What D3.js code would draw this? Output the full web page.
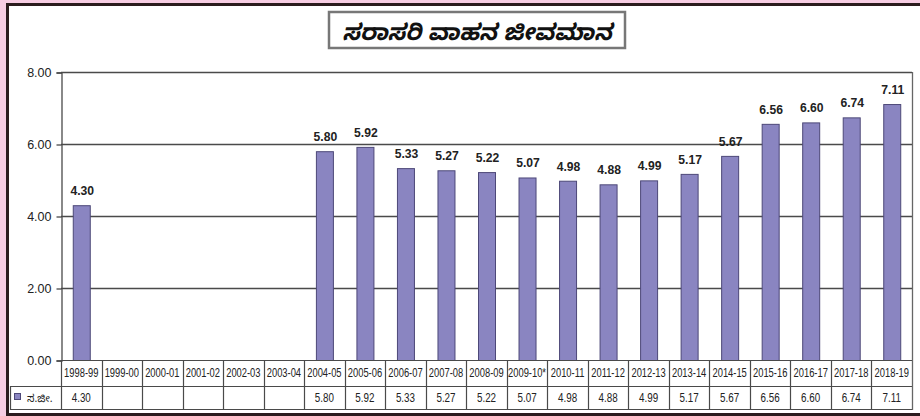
<!DOCTYPE html>
<html><head><meta charset="utf-8">
<script src="https://cdn.jsdelivr.net/npm/d3@7"></script>
<style>
html,body{margin:0;padding:0;background:#f7cde3;}
svg{display:block;}
</style></head>
<body>
<svg id="chart" width="920" height="416"></svg>
<script>
const title = "ಸರಾಸರಿ ವಾಹನ ಜೀವಮಾನ";
const seriesName = "ಸ.ಜೀ.";
const categories = ["1998-99","1999-00","2000-01","2001-02","2002-03","2003-04","2004-05","2005-06","2006-07","2007-08","2008-09","2009-10*","2010-11","2011-12","2012-13","2013-14","2014-15","2015-16","2016-17","2017-18","2018-19"];
const values = [4.30,null,null,null,null,null,5.80,5.92,5.33,5.27,5.22,5.07,4.98,4.88,4.99,5.17,5.67,6.56,6.60,6.74,7.11];
const yTicks = [0,2,4,6,8];

const svg = d3.select("#chart");
const L = 61, R = 912, T = 72, B = 360;
const row1B = 386, row2B = 409, legendL = 10;
const barColor = "#8a85c1", barStroke = "#4d4878", gridColor = "#4a4a4a";
const numFont = "'Liberation Sans',Arial,sans-serif";
const knFont = "'Noto Sans Kannada','Noto Sans','Noto Serif Kannada','Lohit Kannada',sans-serif";

// white frame with dark border
svg.append("rect").attr("x",7.5).attr("y",4.5).attr("width",940).attr("height",410)
  .attr("fill","#fff").attr("stroke","#2b1c1e").attr("stroke-width",3);

const x = d3.scaleBand().domain(categories).range([L,R]).paddingInner(0).paddingOuter(0);
const y = d3.scaleLinear().domain([0,8]).range([B,T]);

// gridlines
svg.append("g").selectAll("line").data(yTicks.filter(d=>d>0)).join("line")
  .attr("x1",L).attr("x2",R).attr("y1",d=>y(d)+0.5).attr("y2",d=>y(d)+0.5)
  .attr("stroke",gridColor).attr("stroke-width",1.3);

// y axis
const yAxis = d3.axisLeft(y).tickValues(yTicks).tickFormat(d3.format(".2f")).tickSize(5).tickPadding(5);
const ga = svg.append("g").attr("transform",`translate(${L+0.5},0.5)`).call(yAxis);
ga.select(".domain").attr("stroke",gridColor).attr("stroke-width",1.3);
ga.selectAll(".tick line").attr("stroke",gridColor).attr("stroke-width",1.3);
ga.selectAll(".tick text").attr("font-family","'Liberation Sans',Arial,sans-serif").attr("font-size",12.5).attr("fill","#222");

// right border of plot
svg.append("line").attr("x1",R+0.5).attr("x2",R+0.5).attr("y1",T).attr("y2",row2B+1)
  .attr("stroke","#666").attr("stroke-width",1.3);

// bars
const bw = 17;
const data = categories.map((c,i)=>({c, v: values[i]})).filter(d=>d.v!=null);
svg.append("g").selectAll("rect").data(data).join("rect")
  .attr("x",d=>x(d.c)+x.bandwidth()/2-bw/2+0.5).attr("width",bw)
  .attr("y",d=>y(d.v)+0.5).attr("height",d=>y(0)-y(d.v))
  .attr("fill",barColor).attr("stroke",barStroke).attr("stroke-width",1);

// value labels (slightly condensed bold)
svg.append("g").selectAll("text").data(data).join("text")
  .attr("transform",d=>`translate(${x(d.c)+x.bandwidth()/2+1},${y(d.v)-10}) scale(0.9,1)`)
  .attr("text-anchor","middle").attr("font-family","'Liberation Sans',Arial,sans-serif")
  .attr("font-weight","bold").attr("font-size",13.5).attr("fill","#222")
  .text(d=>d3.format(".2f")(d.v));

// table
const tg = svg.append("g");
const tl = (x1,y1,x2,y2)=>tg.append("line").attr("x1",x1).attr("y1",y1).attr("x2",x2).attr("y2",y2)
  .attr("stroke",gridColor).attr("stroke-width",1.2);
tl(L,B+0.5,R,B+0.5);
tl(legendL,row1B+0.5,R,row1B+0.5);
tl(legendL,row2B+0.5,R,row2B+0.5);
tl(legendL+0.5,row1B,legendL+0.5,row2B+1);
tl(L+0.5,B,L+0.5,row2B+1);
categories.forEach((c,i)=>{ if(i>0) tl(Math.round(x(c))+0.5,B,Math.round(x(c))+0.5,row2B+1); });

tg.selectAll("text.cat").data(categories).join("text").attr("class","cat")
  .attr("transform",d=>`translate(${x(d)+x.bandwidth()/2},${(B+row1B)/2+4}) scale(0.78,1)`)
  .attr("text-anchor","middle").attr("font-family",numFont).attr("font-size",12).attr("fill","#222")
  .text(d=>d);
tg.selectAll("text.val").data(categories.map((c,i)=>({c,v:values[i]}))).join("text").attr("class","val")
  .attr("transform",d=>`translate(${x(d.c)+x.bandwidth()/2},${(row1B+row2B)/2+4}) scale(0.82,1)`)
  .attr("text-anchor","middle").attr("font-family",numFont).attr("font-size",12).attr("fill","#222")
  .text(d=>d.v==null?"":d3.format(".2f")(d.v));

// legend
tg.append("rect").attr("x",14.5).attr("y",393.5).attr("width",6).attr("height",6)
  .attr("fill",barColor).attr("stroke",barStroke);
tg.append("text").attr("x",27).attr("y",(row1B+row2B)/2+4).attr("font-family",knFont)
  .attr("font-size",10.5).attr("fill","#222").text(seriesName);

// title box
svg.append("rect").attr("x",329).attr("y",12).attr("width",296).attr("height",36)
  .attr("fill","#fff").attr("stroke","#777").attr("stroke-width",2.5);
svg.append("text").attr("x",477).attr("y",40).attr("text-anchor","middle")
  .attr("font-family",knFont).attr("font-weight","bold").attr("font-style","italic")
  .attr("font-size",23).attr("fill","#111").text(title);
</script>
</body></html>
